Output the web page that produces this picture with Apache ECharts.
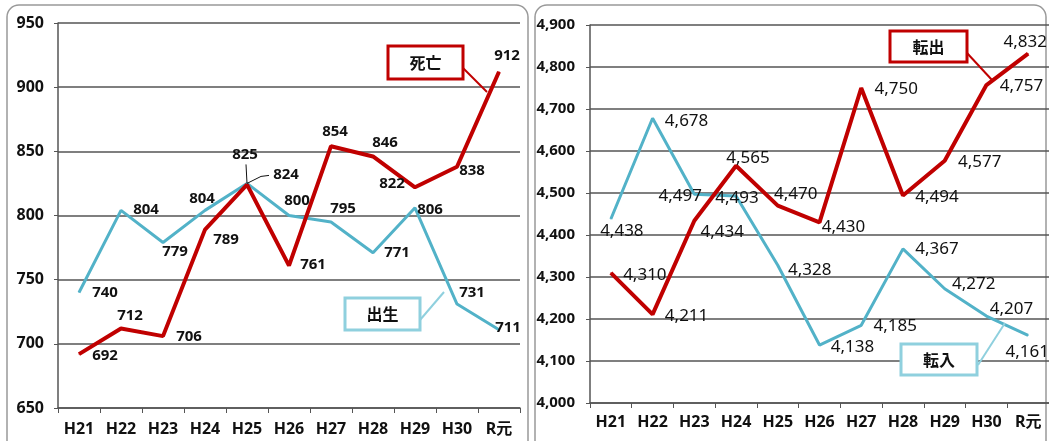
<!DOCTYPE html>
<html>
<head>
<meta charset="utf-8">
<script src="https://cdn.jsdelivr.net/npm/echarts@6/dist/echarts.min.js"></script>
<style>
html,body{margin:0;padding:0;background:#fff}
#main{width:1049px;height:441px}
</style>
</head>
<body>
<div id="main"></div>
<script>
// 年度
var years = ['H21', 'H22', 'H23', 'H24', 'H25', 'H26', 'H27', 'H28', 'H29', 'H30', 'R元'];

// 出生・死亡
var birth = [740, 804, 779, 804, 825, 800, 795, 771, 806, 731, 711];
var death = [692, 712, 706, 789, 824, 761, 854, 846, 822, 838, 912];

// 転入・転出
var moveIn  = [4438, 4678, 4497, 4493, 4328, 4138, 4185, 4367, 4272, 4207, 4161];
var moveOut = [4310, 4211, 4434, 4565, 4470, 4430, 4750, 4494, 4577, 4757, 4832];

// ラベルの位置（点からのずれ）
var birthOff = [[26,0],[25,-1],[12,9],[-3,-12],[-2,-29],[8,-15],[12,-13],[24,0],[15,2],[15,-11],[9,-2]];
var deathOff = [[26,2],[9,-13],[26,1],[21,10],[39,-10],[24,-1],[4,-14],[12,-14],[-23,-4],[15,4],[8,-16]];
var inOff    = [[11,12],[34,3],[-14,2],[1,2],[32,5],[33,2],[34,1],[34,0],[29,-5],[25,-7],[-1,17]];
var outOff   = [[34,2],[34,2],[28,11],[12,-8],[18,-11],[24,5],[35,1],[34,2],[35,1],[35,1],[-3,-11]];

var RED = '#c00000';
var BLUE = '#52b2c8';
var FONT = '"Noto Sans", "Noto Sans CJK JP", sans-serif';

function withLabels(values, offs) {
    return values.map(function (v, i) {
        return {value: v, label: {offset: offs[i]}};
    });
}

function comma(v) {
    return String(v).replace(/\B(?=(\d{3})+(?!\d))/g, ',');
}

var myChart = echarts.init(document.getElementById('main'));

var axisX = function (idx, margin) {
    return {
        type: 'category',
        gridIndex: idx,
        data: years,
        boundaryGap: true,
        axisLine: {lineStyle: {color: '#555', width: 1.5}},
        axisTick: {show: true, length: 5, lineStyle: {color: '#555'}},
        axisLabel: {color: '#111', fontSize: 16, fontWeight: 'bold', fontFamily: FONT, margin: margin}
    };
};

var option = {
    animation: false,
    textStyle: {fontFamily: FONT},
    grid: [
        {left: 58, right: 529, top: 23, bottom: 33},
        {left: 590, right: 0, top: 25, bottom: 38}
    ],
    xAxis: [axisX(0, 13), axisX(1, 11)],
    yAxis: [
        {
            type: 'value', gridIndex: 0, min: 650, max: 950, interval: 50,
            axisLine: {show: true, lineStyle: {color: '#555', width: 1.5}},
            axisTick: {show: true, length: 4, lineStyle: {color: '#555'}},
            splitLine: {lineStyle: {color: '#555', width: 1.5}},
            axisLabel: {color: '#111', fontSize: 16, fontWeight: 'bold', fontFamily: FONT, margin: 14}
        },
        {
            type: 'value', gridIndex: 1, min: 4000, max: 4900, interval: 100,
            axisLine: {show: true, lineStyle: {color: '#555', width: 1.5}},
            axisTick: {show: true, length: 4, lineStyle: {color: '#555'}},
            splitLine: {lineStyle: {color: '#555', width: 1.5}},
            axisLabel: {color: '#111', fontSize: 15, fontWeight: 'bold', fontFamily: FONT, margin: 15,
                formatter: function (v) { return comma(v); }}
        }
    ],
    series: [
        {
            name: '出生', type: 'line', xAxisIndex: 0, yAxisIndex: 0,
            data: withLabels(birth, birthOff),
            symbol: 'circle', symbolSize: 1,
            lineStyle: {color: BLUE, width: 3}, itemStyle: {color: BLUE},
            label: {show: true, position: 'inside', color: '#111', fontSize: 15, fontWeight: 'bold', fontFamily: FONT}
        },
        {
            name: '死亡', type: 'line', xAxisIndex: 0, yAxisIndex: 0,
            data: withLabels(death, deathOff),
            symbol: 'circle', symbolSize: 1,
            lineStyle: {color: RED, width: 4}, itemStyle: {color: RED},
            label: {show: true, position: 'inside', color: '#111', fontSize: 15, fontWeight: 'bold', fontFamily: FONT}
        },
        {
            name: '転入', type: 'line', xAxisIndex: 1, yAxisIndex: 1,
            data: withLabels(moveIn, inOff),
            symbol: 'circle', symbolSize: 1,
            lineStyle: {color: BLUE, width: 3}, itemStyle: {color: BLUE},
            label: {show: true, position: 'inside', color: '#111', fontSize: 17, fontFamily: FONT,
                formatter: function (p) { return comma(p.value); }}
        },
        {
            name: '転出', type: 'line', xAxisIndex: 1, yAxisIndex: 1,
            data: withLabels(moveOut, outOff),
            symbol: 'circle', symbolSize: 1,
            lineStyle: {color: RED, width: 4}, itemStyle: {color: RED},
            label: {show: true, position: 'inside', color: '#111', fontSize: 17, fontFamily: FONT,
                formatter: function (p) { return comma(p.value); }}
        }
    ]
};

myChart.setOption(option);

// 枠と吹き出し
function callout(x, y, w, h, text, color, lx1, ly1, lx2, ly2) {
    return [
        {type: 'rect', shape: {x: x, y: y, width: w, height: h}, z: 10,
            style: {fill: '#fff', stroke: color, lineWidth: 3}},
        {type: 'text', x: x + w / 2, y: y + h / 2, z: 11,
            style: {text: text, fill: '#111', font: 'bold 16px "Noto Sans CJK JP"', align: 'center', verticalAlign: 'middle'}},
        {type: 'line', shape: {x1: lx1, y1: ly1, x2: lx2, y2: ly2}, z: 10,
            style: {stroke: color, lineWidth: 2}}
    ];
}

// H25の引き出し線
var p825 = myChart.convertToPixel({xAxisIndex: 0, yAxisIndex: 0}, ['H25', birth[4]]);
var graphics = [
    {type: 'rect', shape: {x: 7, y: 5, width: 521, height: 450, r: 12}, z: -1,
        style: {fill: 'none', stroke: '#999', lineWidth: 1.5}},
    {type: 'rect', shape: {x: 535, y: 5, width: 511, height: 450, r: 12}, z: -1,
        style: {fill: 'none', stroke: '#999', lineWidth: 1.5}},
    {type: 'line', shape: {x1: p825[0] - 1, y1: p825[1] - 19, x2: p825[0], y2: p825[1]}, z: 9,
        style: {stroke: '#111', lineWidth: 1}},
    {type: 'polyline', shape: {points: [[p825[0], p825[1]], [p825[0] + 14, p825[1] - 7], [p825[0] + 22, p825[1] - 8]]}, z: 9,
        style: {stroke: '#111', lineWidth: 1, fill: 'none'}}
]
.concat(callout(388, 46, 75, 33, '死亡', RED, 463, 68, 487, 92))
.concat(callout(345, 298, 75, 32, '出生', '#8fd0de', 420, 320, 444, 292))
.concat(callout(890, 31, 77, 31, '転出', RED, 967, 53, 992, 80))
.concat(callout(901, 344, 76, 31, '転入', '#8fd0de', 978, 365, 1005, 323));

myChart.setOption({graphic: graphics});
</script>
</body>
</html>
